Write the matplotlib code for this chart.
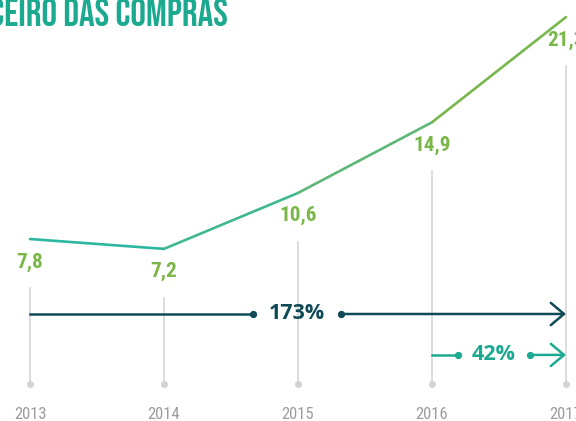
import matplotlib
matplotlib.use("Agg")
import matplotlib.pyplot as plt

years = [2013, 2014, 2015, 2016, 2017]
values = [7.8, 7.2, 10.6, 14.9, 21.3]
value_labels = ["7,8", "7,2", "10,6", "14,9", "21,3"]
growth_total = "173%"
growth_last = "42%"
title = "PERFIL FINANCEIRO DAS COMPRAS"

cond = ["Roboto Condensed", "DejaVu Sans"]
bebas = ["Bebas Neue", "DejaVu Sans"]
rounded = ["Open Sans", "DejaVu Sans"]
seg_colors = ["#2bb69d", "#3fb88d", "#5db777", "#78b64e"]
label_green = "#7ab648"
dark = "#0f4b57"
teal = "#1ba98f"
grey = "#d3d3d3"

fig = plt.figure(figsize=(5.76, 4.21), dpi=100)
ax = fig.add_axes([0, 0, 1, 1])
ax.set_xlim(2012.776, 2017.075)
ax.set_ylim(-3.27, 22.34)
ax.axis("off")

# line, one colour per segment to fake the gradient
for i in range(len(years) - 1):
    ax.plot(years[i:i + 2], values[i:i + 2], color=seg_colors[i], lw=1.9,
            solid_capstyle="round")

# value labels and grey guides
for x, v, lab in zip(years, values, value_labels):
    ax.annotate(lab, (x, v), xytext=(0, -16.5), textcoords="offset points",
                ha="center", va="center", color=label_green, fontsize=15.3,
                fontweight="bold", family=cond)
    ax.plot([x, x], [v - 2.98, -1.02], color=grey, lw=1.1, zorder=0)
    ax.plot(x, -1.02, "o", color=grey, ms=4, zorder=0)
    ax.text(x, -2.85, str(x), ha="center", va="center", color="#9c9c9c",
            fontsize=12, family=cond)


# growth arrows
def growth(x0, x1, y, gap0, gap1, text, col):
    ax.plot([x0, gap0], [y, y], color=col, lw=1.8)
    ax.plot([gap0, gap1], [y, y], "o", color=col, ms=4.2)
    ax.annotate("", xy=(x1, y), xytext=(gap1, y),
                arrowprops=dict(arrowstyle="->,head_length=0.95,head_width=0.8",
                                color=col, lw=1.8, shrinkA=0, shrinkB=0))
    ax.text((gap0 + gap1) / 2, y, text, ha="center", va="center", color=col,
            fontsize=15.5, fontweight="bold", family=rounded)


growth(years[0], years[-1], 3.24, 2014.664, 2015.321, growth_total, dark)
growth(years[3], years[-1], 0.75, 2016.194, 2016.731, growth_last, teal)

fig.text(228 / 576, 1 - 11.5 / 421, title, ha="right", va="center",
         color=teal, fontsize=28, family=bebas)

fig.savefig("out.png", dpi=100)
